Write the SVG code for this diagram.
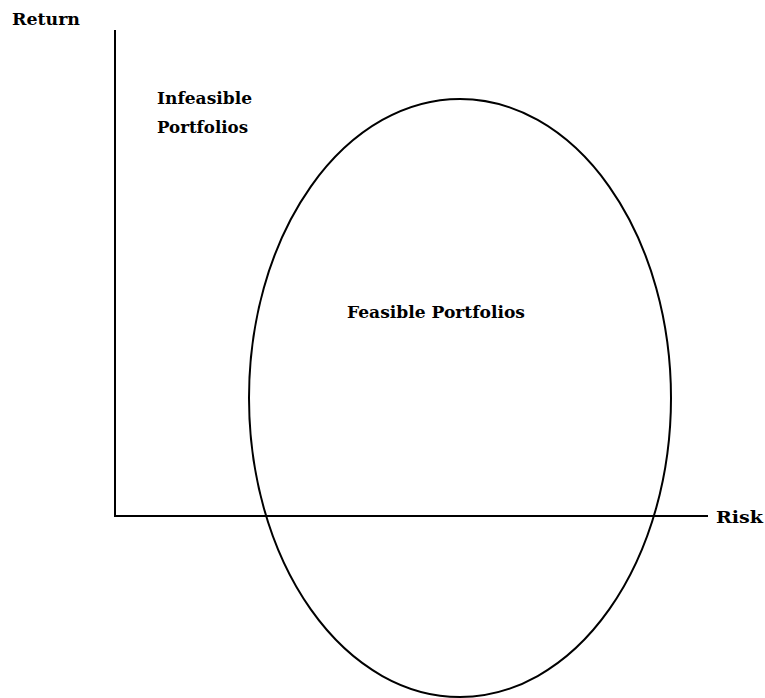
<svg xmlns="http://www.w3.org/2000/svg" width="765" height="698" viewBox="0 0 765 698">
<style>
.t{font-family:"DejaVu Serif","Liberation Serif",serif;font-weight:bold;font-size:16px;fill:#000}
.ln{stroke:#000;stroke-width:2;fill:none}
</style>
<rect width="765" height="698" fill="#fff"/>
<g id="axes">
<line class="ln" x1="115" y1="30" x2="115" y2="517"/>
<line class="ln" x1="114" y1="516" x2="708" y2="516"/>
</g>
<g id="feasible">
<ellipse class="ln" cx="460" cy="398" rx="211" ry="299"/>
<text class="t" x="347" y="318" textLength="178" lengthAdjust="spacingAndGlyphs">Feasible Portfolios</text>
</g>
<g id="labels">
<text class="t" x="12" y="25" textLength="68" lengthAdjust="spacingAndGlyphs">Return</text>
<text class="t" x="716" y="523" textLength="47" lengthAdjust="spacingAndGlyphs">Risk</text>
<text class="t" x="157" y="104" textLength="95" lengthAdjust="spacingAndGlyphs">Infeasible</text>
<text class="t" x="157" y="133" textLength="91" lengthAdjust="spacingAndGlyphs">Portfolios</text>
</g>
</svg>
